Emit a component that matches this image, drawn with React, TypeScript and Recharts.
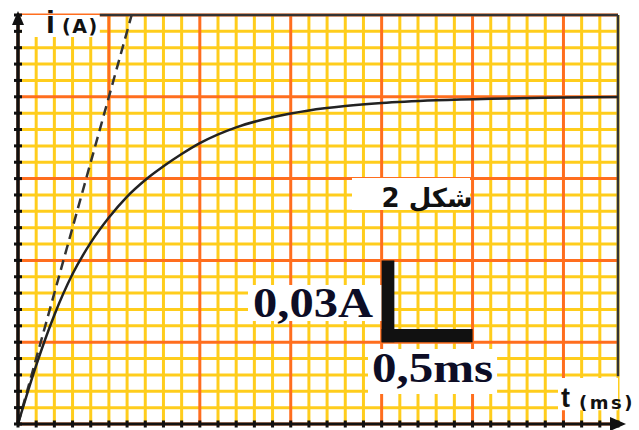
import React from "react";
import {
  LineChart, Line, XAxis, YAxis, CartesianGrid, ReferenceArea, ReferenceLine, Label,
} from "recharts";

// grid graduations (ms, A)
const X_DOMAIN: [number, number] = [0, 3.3];
const Y_DOMAIN: [number, number] = [0, 0.15];
const minorX = Array.from({ length: 34 }, (_, k) => +(k * 0.1).toFixed(1));
const majorX = [0, 1, 1.5, 2, 2.5, 3];
const minorY = Array.from({ length: 26 }, (_, k) => +(k * 0.006).toFixed(3));
const majorY = [0, 0.03, 0.06, 0.09, 0.12, 0.15];
const fineX = minorX.filter((v) => !majorX.includes(v));
const fineY = minorY.filter((v) => !majorY.includes(v));

// i(t)
const timeMs = [0, 0.1, 0.2, 0.3, 0.4, 0.5, 0.6, 0.7, 0.8, 0.9, 1.0, 1.2, 1.4, 1.6, 1.8, 2.0, 2.3, 2.6, 3.0, 3.3];
const currentA = [0, 0.0215, 0.04, 0.055, 0.0665, 0.0757, 0.0834, 0.0895, 0.0945, 0.099, 0.103, 0.1088, 0.1125, 0.115, 0.1166, 0.1177, 0.1187, 0.1193, 0.1197, 0.1199];

// tangent at the origin (dashed)
const tangentT = [0, 0.625];
const tangentI = [0, 0.15];

const curve = timeMs.map((t, k) => ({ t, i: currentA[k] }));
const tangent = tangentT.map((t, k) => ({ t, i: tangentI[k] }));

const YELLOW = "#FFCD1C";
const ORANGE = "#FF6E1E";
const INK = "#111";
const NAVY = "#0d0d26";

// grid positions mapped through the plot box handed over by the grid
// eslint-disable-next-line @typescript-eslint/no-explicit-any
const atX = (vals: number[]) => ({ offset }: any) =>
  vals.map((v) => offset.left + ((v - X_DOMAIN[0]) / (X_DOMAIN[1] - X_DOMAIN[0])) * offset.width);
// eslint-disable-next-line @typescript-eslint/no-explicit-any
const atY = (vals: number[]) => ({ offset }: any) =>
  vals.map((v) => offset.top + (1 - (v - Y_DOMAIN[0]) / (Y_DOMAIN[1] - Y_DOMAIN[0])) * offset.height);

// eslint-disable-next-line @typescript-eslint/no-explicit-any
const XTick = ({ x, y }: any) => <rect x={x - 1.5} y={y - 3.5} width={3} height={7} fill={INK} />;
// eslint-disable-next-line @typescript-eslint/no-explicit-any
const YTick = ({ x, y }: any) => <rect x={x - 4} y={y - 1.5} width={8} height={3} fill={INK} />;

// eslint-disable-next-line @typescript-eslint/no-explicit-any
function yDecor({ viewBox }: any) {
  const x = viewBox.x + viewBox.width;
  const y = viewBox.y;
  return (
    <g>
      <polygon points={`${x},${y - 4} ${x - 6},${y + 10} ${x + 6},${y + 10}`} fill={INK} />
      <text x={x + 28} y={y + 18} fontFamily="Liberation Sans" fontWeight="bold" fontSize={32} fill={INK}>i</text>
      <text x={x + 44} y={y + 18} fontFamily="DejaVu Sans" fontWeight="bold" fontSize={19} letterSpacing={1.5} fill={INK}>(A)</text>
    </g>
  );
}

// eslint-disable-next-line @typescript-eslint/no-explicit-any
function xDecor({ viewBox }: any) {
  const x = viewBox.x + viewBox.width;
  const y = viewBox.y;
  return (
    <g>
      <polygon points={`${x + 8},${y} ${x - 8},${y - 7} ${x - 8},${y + 7}`} fill={INK} />
      <text x={x - 57} y={y - 17} fontFamily="Liberation Sans" fontWeight="bold" fontSize={27} fill={INK}>t</text>
      <text x={x - 39} y={y - 15} fontFamily="DejaVu Sans" fontWeight="bold" fontSize={18} letterSpacing={2.5} fill={INK}>(ms)</text>
    </g>
  );
}

function boxText(text: string, dx: number, dy: number, opts: { size: number; family: string; sx?: number; anchor?: string; color?: string }) {
  // eslint-disable-next-line @typescript-eslint/no-explicit-any
  return ({ viewBox }: any) => {
    const tx = viewBox.x + dx;
    const ty = viewBox.y + dy;
    return (
      <text
        transform={`translate(${tx},${ty}) scale(${opts.sx ?? 1},1)`}
        textAnchor={opts.anchor ?? "start"}
        fontFamily={opts.family}
        fontWeight="bold"
        fontSize={opts.size}
        fill={opts.color ?? NAVY}
      >
        {text}
      </text>
    );
  };
}

export default function App() {
  return (
    <div style={{ position: "absolute", left: 0, top: 0, width: 639, height: 430, background: "#fff" }}>
      <LineChart width={639} height={430} margin={{ top: 15, right: 21, bottom: 5, left: 17 }}>
        <XAxis
          type="number"
          dataKey="t"
          domain={X_DOMAIN}
          ticks={minorX}
          interval={0}
          height={1}
          tickSize={0}
          tickMargin={0}
          tick={<XTick />}
          axisLine={{ stroke: INK, strokeWidth: 3 }}
          tickLine={false}
          label={<Label content={xDecor} />}
        />
        <YAxis
          type="number"
          domain={Y_DOMAIN}
          ticks={minorY}
          interval={0}
          width={1}
          tickSize={0}
          tickMargin={0}
          tick={<YTick />}
          axisLine={{ stroke: INK, strokeWidth: 3.5 }}
          tickLine={false}
          label={<Label content={yDecor} />}
        />

        <CartesianGrid stroke={YELLOW} strokeWidth={3}
          verticalCoordinatesGenerator={atX(fineX)} horizontalCoordinatesGenerator={atY(fineY)} />
        <CartesianGrid stroke={ORANGE} strokeWidth={3}
          verticalCoordinatesGenerator={atX(majorX)} horizontalCoordinatesGenerator={atY(majorY)} />
        {/* the 0.5 ms major line is only orange in the upper part */}
        <ReferenceLine segment={[{ x: 0.5, y: 0.06 }, { x: 0.5, y: 0.15 }]} stroke={ORANGE} strokeWidth={3} />

        {/* erased patches behind the texts */}
        <ReferenceArea x1={0.02} x2={0.45} y1={0.1419} y2={0.15} fill="#fff" fillOpacity={1} stroke="none" ifOverflow="visible" />
        <ReferenceArea x1={1.837} x2={2.486} y1={0.0785} y2={0.0902} fill="#fff" fillOpacity={1} stroke="none"
          label={<Label content={boxText("شكل 2", 75, 29, { size: 26, family: "DejaVu Sans", anchor: "middle", color: INK })} />} />
        <ReferenceArea x1={1.265} x2={2.0} y1={0.0378} y2={0.051} fill="#fff" fillOpacity={1} stroke="none"
          label={<Label content={boxText("0,03A", 5, 32, { size: 43, family: "Liberation Serif", sx: 1.13 })} />} />
        <ReferenceArea x1={1.925} x2={2.635} y1={0.011} y2={0.0275} fill="#fff" fillOpacity={1} stroke="none"
          label={<Label content={boxText("0,5ms", 4, 33, { size: 43, family: "Liberation Serif", sx: 1.14 })} />} />
        <ReferenceArea x1={2.97} x2={3.3} y1={0.005} y2={0.0169} fill="#fff" fillOpacity={1} stroke="none" ifOverflow="visible" />

        {/* scale bar */}
        <ReferenceArea x1={2.0} x2={2.07} y1={0.03} y2={0.06} fill={INK} fillOpacity={1} stroke="none" />
        <ReferenceArea x1={2.0} x2={2.5} y1={0.03} y2={0.0348} fill={INK} fillOpacity={1} stroke="none" />

        {/* frame */}
        <ReferenceLine segment={[{ x: 0.45, y: 0.15 }, { x: 3.3, y: 0.15 }]} stroke="#333" strokeWidth={2.5} ifOverflow="visible" />
        <ReferenceLine segment={[{ x: 3.3, y: 0.15 }, { x: 3.3, y: 0.0175 }]} stroke="#333" strokeWidth={2.5} ifOverflow="visible" />

        <Line data={tangent} dataKey="i" type="linear" stroke="#333" strokeWidth={2.5} strokeDasharray="10 6"
          dot={false} activeDot={false} isAnimationActive={false} />
        <Line data={curve} dataKey="i" type="monotone" stroke="#222" strokeWidth={2.5} dot={false}
          activeDot={false} isAnimationActive={false} />
      </LineChart>
    </div>
  );
}
